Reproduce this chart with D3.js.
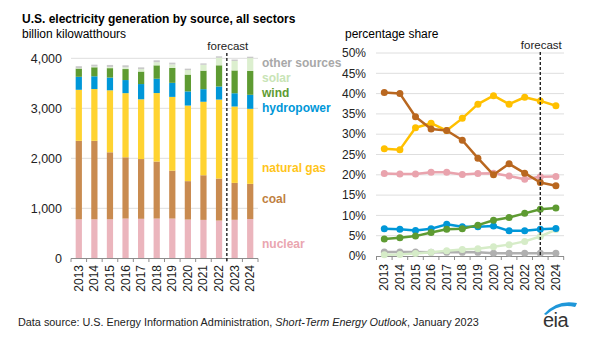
<!DOCTYPE html>
<html>
<head>
<meta charset="utf-8">
<script src="https://cdn.jsdelivr.net/npm/d3@7"></script>
<style>
  body { margin: 0; background: #fff; }
  svg { font-family: "Liberation Sans", Arial, sans-serif; }
</style>
</head>
<body>
<svg id="chart" width="602" height="340"></svg>
<script>
const years = ["2013", "2014", "2015", "2016", "2017", "2018", "2019", "2020", "2021", "2022", "2023", "2024"];

// billion kilowatthours (left panel)
const nuclearGen = [780, 780, 780, 795, 790, 795, 795, 775, 768, 755, 770, 785];
const coalGen    = [1570, 1570, 1340, 1225, 1195, 1140, 958, 768, 893, 840, 738, 705];
const gasGen     = [1020, 1035, 1240, 1283, 1195, 1370, 1475, 1512, 1470, 1580, 1528, 1500];
const hydroGen   = [260, 255, 255, 262, 305, 286, 281, 283, 252, 261, 265, 280];
const windGen    = [164, 180, 188, 220, 250, 268, 298, 336, 370, 424, 456, 476];
const solarGen   = [8, 15, 24, 35, 50, 63, 70, 91, 117, 150, 190, 258];
const otherGen   = [40, 38, 40, 40, 34, 38, 36, 28, 28, 30, 28, 28];

// percentage share (right panel)
const nuclearPct = [20.3, 20.2, 20.2, 20.6, 20.6, 20.1, 20.3, 20.4, 19.7, 18.9, 19.5, 19.6];
const coalPct    = [40.3, 40.0, 34.3, 31.3, 30.9, 28.5, 24.1, 20.0, 22.7, 20.4, 18.1, 17.3];
const gasPct     = [26.4, 26.2, 31.6, 32.7, 30.9, 33.9, 37.4, 39.5, 37.4, 39.1, 38.2, 37.0];
const hydroPct   = [6.7, 6.6, 6.3, 6.7, 7.8, 7.2, 7.2, 7.4, 6.2, 6.2, 6.6, 6.8];
const windPct    = [4.2, 4.5, 4.9, 5.8, 6.6, 6.7, 7.6, 8.8, 9.5, 10.5, 11.5, 11.8];
const solarPct   = [0.3, 0.4, 0.6, 0.9, 1.3, 1.6, 1.8, 2.3, 2.8, 3.6, 4.8, 6.5];
const otherPct   = [1.0, 1.0, 1.0, 0.9, 0.9, 0.9, 0.9, 0.7, 0.7, 0.7, 0.7, 0.7];

const genTicks = [0, 1000, 2000, 3000, 4000];
const pctTicks = [0, 5, 10, 15, 20, 25, 30, 35, 40, 45, 50];

const sources = [
    { key: "nuclear", label: "nuclear", gen: nuclearGen, pct: nuclearPct, bar: "#ebb5bd", line: "#e9a3ad", text: "#eaa6b0" },
    { key: "coal", label: "coal", gen: coalGen, pct: coalPct, bar: "#c98b50", line: "#b9671f", text: "#c0803f" },
    { key: "gas", label: "natural gas", gen: gasGen, pct: gasPct, bar: "#ffd330", line: "#ffc000", text: "#ffc51a" },
    { key: "hydro", label: "hydropower", gen: hydroGen, pct: hydroPct, bar: "#0097d8", line: "#0097d8", text: "#0097d8" },
    { key: "wind", label: "wind", gen: windGen, pct: windPct, bar: "#5e9b32", line: "#5e9b32", text: "#5e9b32" },
    { key: "solar", label: "solar", gen: solarGen, pct: solarPct, bar: "#dcefcf", line: "#d6ecc8", text: "#c8e4b6" },
    { key: "other", label: "other sources", gen: otherGen, pct: otherPct, bar: "#c9c9c9", line: "#b0b0b0", text: "#a8a8a8" }
];

const svg = d3.select("#chart");
const gridColor = "#dedede";
const axisColor = "#8c8c8c";

// titles
svg.append("text").attr("x", 22).attr("y", 23)
    .style("font-size", "12px").style("font-weight", "bold").attr("fill", "#000")
    .text("U.S. electricity generation by source, all sectors");
svg.append("text").attr("x", 22).attr("y", 38)
    .style("font-size", "12px").attr("fill", "#000")
    .text("billion kilowatthours");
svg.append("text").attr("x", 345).attr("y", 38)
    .style("font-size", "12px").attr("fill", "#000")
    .text("percentage share");

// ---------- left panel: stacked bars ----------
const xL = d3.scaleBand().domain(years).range([71, 258]).paddingInner(0.6).paddingOuter(0.3);
const yL = d3.scaleLinear().domain([0, 4000]).range([258.3, 58.3]);

const left = svg.append("g");

left.selectAll(".gridL")
    .data(genTicks.filter(d => d > 0))
    .enter().append("line")
    .attr("x1", 71).attr("x2", 258)
    .attr("y1", d => yL(d)).attr("y2", d => yL(d))
    .attr("stroke", gridColor).attr("stroke-width", 1);

left.selectAll(".tickL")
    .data(genTicks)
    .enter().append("text")
    .attr("x", 62).attr("y", d => yL(d)).attr("dy", "0.35em")
    .attr("text-anchor", "end")
    .style("font-size", "12.5px").attr("fill", "#222")
    .text(d => d3.format(",")(d));

const stackData = years.map((y, i) => {
    const row = { year: y };
    sources.forEach(s => { row[s.key] = s.gen[i]; });
    return row;
});
const stack = d3.stack().keys(sources.map(s => s.key))(stackData);

left.selectAll(".layer")
    .data(stack)
    .enter().append("g")
    .attr("fill", (d, i) => sources[i].bar)
    .selectAll("rect")
    .data(d => d)
    .enter().append("rect")
    .attr("x", d => xL(d.data.year))
    .attr("width", xL.bandwidth())
    .attr("y", d => yL(d[1]))
    .attr("height", d => yL(d[0]) - yL(d[1]));

// bottom axis with boundary ticks
const stepL = xL.step();
left.append("line").attr("x1", 71).attr("x2", 258).attr("y1", 258.5).attr("y2", 258.5)
    .attr("stroke", axisColor);
left.selectAll(".bndL")
    .data(d3.range(years.length + 1))
    .enter().append("line")
    .attr("x1", i => xL(years[0]) + xL.bandwidth() / 2 - stepL / 2 + i * stepL)
    .attr("x2", i => xL(years[0]) + xL.bandwidth() / 2 - stepL / 2 + i * stepL)
    .attr("y1", 258.5).attr("y2", 262)
    .attr("stroke", axisColor);

left.selectAll(".yearL")
    .data(years)
    .enter().append("text")
    .attr("transform", d => `translate(${xL(d) + xL.bandwidth() / 2 + 4},${265}) rotate(-90)`)
    .attr("text-anchor", "end")
    .style("font-size", "12px").attr("fill", "#222")
    .text(d => d);

// forecast divider (left)
const fxL = xL("2023") + xL.bandwidth() / 2 - stepL / 2;
left.append("line").attr("x1", fxL).attr("x2", fxL).attr("y1", 53).attr("y2", 263)
    .attr("stroke", "#222").attr("stroke-width", 1.4).attr("stroke-dasharray", "3,2");
left.append("text").attr("x", fxL + 1).attr("y", 50).attr("text-anchor", "middle")
    .style("font-size", "11.5px").attr("fill", "#222").text("forecast");

// labels next to last bar
const labelY = { other: 63, solar: 78, wind: 93, hydro: 108, gas: 168, coal: 199, nuclear: 244 };
left.selectAll(".srcLabel")
    .data(sources)
    .enter().append("text")
    .attr("x", 262).attr("y", d => labelY[d.key]).attr("dy", "0.35em")
    .style("font-size", "12px").style("font-weight", "bold")
    .attr("fill", d => d.text)
    .text(d => d.label);

// ---------- right panel: lines ----------
const xR = d3.scaleBand().domain(years).range([376.5, 563.7]);
const yR = d3.scaleLinear().domain([0, 50]).range([256, 53]);
const right = svg.append("g");

right.selectAll(".gridR")
    .data(pctTicks.filter(d => d > 0))
    .enter().append("line")
    .attr("x1", 376).attr("x2", 564)
    .attr("y1", d => yR(d)).attr("y2", d => yR(d))
    .attr("stroke", gridColor).attr("stroke-width", 1);

right.selectAll(".tickR")
    .data(pctTicks)
    .enter().append("text")
    .attr("x", 366).attr("y", d => yR(d)).attr("dy", "0.35em")
    .attr("text-anchor", "end")
    .style("font-size", "12px").attr("fill", "#222")
    .text(d => d + "%");

right.append("line").attr("x1", 376).attr("x2", 564).attr("y1", 256.5).attr("y2", 256.5)
    .attr("stroke", axisColor);
right.selectAll(".bndR")
    .data(d3.range(years.length + 1))
    .enter().append("line")
    .attr("x1", i => 376.5 + i * xR.step())
    .attr("x2", i => 376.5 + i * xR.step())
    .attr("y1", 256.5).attr("y2", 260)
    .attr("stroke", axisColor);

right.selectAll(".yearR")
    .data(years)
    .enter().append("text")
    .attr("transform", d => `translate(${xR(d) + xR.bandwidth() / 2 + 4},${264}) rotate(-90)`)
    .attr("text-anchor", "end")
    .style("font-size", "12px").attr("fill", "#222")
    .text(d => d);

const lineGen = d3.line()
    .x((d, i) => xR(years[i]) + xR.bandwidth() / 2)
    .y(d => yR(d));

const drawOrder = ["other", "solar", "hydro", "wind", "nuclear", "gas", "coal"];
drawOrder.forEach(k => {
    const s = sources.find(v => v.key === k);
    const g = right.append("g");
    g.append("path").datum(s.pct)
        .attr("d", lineGen)
        .attr("fill", "none").attr("stroke", s.line).attr("stroke-width", 2.5)
        .attr("stroke-linejoin", "round");
    g.selectAll("circle")
        .data(s.pct)
        .enter().append("circle")
        .attr("cx", (d, i) => xR(years[i]) + xR.bandwidth() / 2)
        .attr("cy", d => yR(d))
        .attr("r", 3.5)
        .attr("fill", s.line);
});

// forecast divider (right)
const fxR = xR("2023") + xR.bandwidth() / 2;
right.append("line").attr("x1", fxR).attr("x2", fxR).attr("y1", 52).attr("y2", 257)
    .attr("stroke", "#222").attr("stroke-width", 1.4).attr("stroke-dasharray", "3,2");
right.append("text").attr("x", fxR + 1).attr("y", 49).attr("text-anchor", "middle")
    .style("font-size", "11.5px").attr("fill", "#222").text("forecast");

// ---------- footer ----------
const foot = svg.append("text").attr("x", 18).attr("y", 326)
    .style("font-size", "10.85px").attr("fill", "#222");
foot.append("tspan").text("Data source: U.S. Energy Information Administration, ");
foot.append("tspan").style("font-style", "italic").text("Short-Term Energy Outlook");
foot.append("tspan").text(", January 2023");

// eia logo
svg.append("path")
    .attr("d", "M544,314 Q557,299 577,303 Q576,306 575,307 Q559,303 546,315 Z")
    .attr("fill", "#1f97d9");
svg.append("text").attr("x", 543).attr("y", 327)
    .style("font-size", "20px").attr("fill", "#333")
    .style("letter-spacing", "-0.5px")
    .text("eia");
</script>
</body>
</html>
